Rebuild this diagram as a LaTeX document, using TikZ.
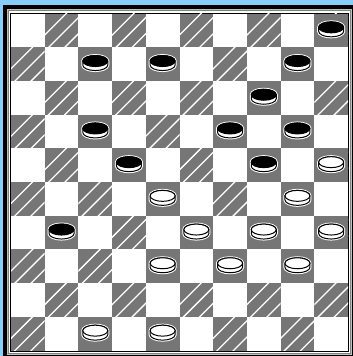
\documentclass[tikz,border=0pt]{standalone}
\definecolor{skyb}{RGB}{135,206,250}
\definecolor{dither}{RGB}{118,118,118}
\definecolor{lgray}{RGB}{192,192,192}
\definecolor{mgray}{RGB}{128,128,128}
\tikzset{
  darksq/.style={fill=dither},
  stripe/.style={draw=white, line width=1.3pt},
  halo/.style={draw=white, fill=white, line width=3pt},
  body/.style={draw=black, fill=white, line width=1pt},
}
\newcommand\sqx[1]{11+#1*33.7}
\newcommand\sqy[1]{13.5+#1*33.7}
% dark square with stripes (col,row)
\newcommand\hatchsq[2]{%
  \pgfmathsetmacro\xa{11+#1*33.7}\pgfmathsetmacro\ya{13.5+#2*33.7}%
  \fill[darksq] (\xa,\ya) rectangle ++(33.7,33.7);
  \begin{scope}
    \clip (\xa,\ya) rectangle ++(33.7,33.7);
    \draw[stripe] (\xa-0.1*33.7,\ya+0.74*33.7) -- (\xa+0.74*33.7,\ya-0.1*33.7);
    \draw[stripe] (\xa+0.02*33.7,\ya+1.1*33.7) -- (\xa+1.1*33.7,\ya+0.02*33.7);
    \draw[stripe] (\xa+0.5*33.7,\ya+1.1*33.7) -- (\xa+1.1*33.7,\ya+0.5*33.7);
  \end{scope}}
\newcommand\plainsq[2]{%
  \pgfmathsetmacro\xa{11+#1*33.7}\pgfmathsetmacro\ya{13.5+#2*33.7}%
  \fill[darksq] (\xa,\ya) rectangle ++(33.7,33.7);}
% piece (col,row,topcolour)
\newcommand\piece[3]{%
  \pgfmathsetmacro\cx{11+(#1+0.5)*33.7}\pgfmathsetmacro\cy{13.5+(#2+0.5)*33.7-1}%
  \path[halo] (\cx-12.5,\cy-2) -- (\cx-12.5,\cy+2)
     arc[start angle=180,end angle=0,x radius=12.5,y radius=5.5]
     -- (\cx+12.5,\cy-2)
     arc[start angle=0,end angle=-180,x radius=12.5,y radius=5.5] -- cycle;
  \path[body] (\cx-12.5,\cy-2) -- (\cx-12.5,\cy+2)
     arc[start angle=180,end angle=0,x radius=12.5,y radius=5.5]
     -- (\cx+12.5,\cy-2)
     arc[start angle=0,end angle=-180,x radius=12.5,y radius=5.5] -- cycle;
  \draw[line width=1pt, fill=#3] (\cx,\cy-2) ellipse[x radius=12.5,y radius=5.5];}
\begin{document}
\begin{tikzpicture}[x=1pt,y=-1pt]
  \useasboundingbox (0,0) rectangle (353,356);
  \fill[skyb] (0,0) rectangle (353,356);
  \fill[black] (3,5) rectangle (360,362);
  \fill[lgray] (7,9) rectangle (352,355);
  \fill[mgray] (8,10) rectangle (351,354);
  \fill[white] (9,11) rectangle (350,353);
  \fill[black] (10,12.5) rectangle (349,351.5);
  \fill[white] (11,13.5) rectangle (348,350.5);
  % empty dark squares
  \foreach \r in {0,...,9}{
    \foreach \c in {0,...,9}{
      \pgfmathtruncatemacro\odd{mod(\r+\c,2)}
      \ifnum\odd=1 \hatchsq{\c}{\r}\fi
    }}
  % occupied squares: plain dither
  \foreach \c/\r in {9/0,2/1,4/1,8/1,7/2,2/3,6/3,8/3,3/4,7/4,1/6,
                     9/4,4/5,8/5,5/6,7/6,9/6,4/7,6/7,8/7,2/9,4/9}{
    \plainsq{\c}{\r}}
  % black pieces
  \foreach \c/\r in {9/0,2/1,4/1,8/1,7/2,2/3,6/3,8/3,3/4,7/4,1/6}{
    \piece{\c}{\r}{black}}
  % white pieces
  \foreach \c/\r in {9/4,4/5,8/5,5/6,7/6,9/6,4/7,6/7,8/7,2/9,4/9}{
    \piece{\c}{\r}{white}}
\end{tikzpicture}
\end{document}
